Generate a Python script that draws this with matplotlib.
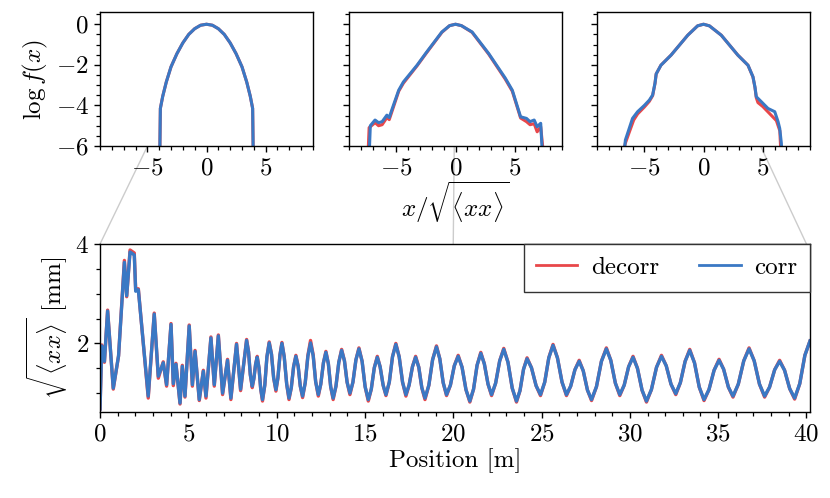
import matplotlib
matplotlib.use("Agg")
import matplotlib.pyplot as plt
from matplotlib.patches import ConnectionPatch
from matplotlib.ticker import MultipleLocator

plt.rcParams["font.family"] = "serif"
plt.rcParams["font.serif"] = ["cmr10"]
plt.rcParams["mathtext.fontset"] = "cm"
plt.rcParams["axes.formatter.use_mathtext"] = True
plt.rcParams["font.size"] = 18

RED = "#e8474a"
BLUE = "#3a78c4"

# --- distributions (log f(x)) at three positions ---
left_x = [-3.95, -3.9, -3.7, -3.4, -3.0, -2.5, -2.0, -1.5, -1.0, -0.5, 0.0,
          0.5, 1.0, 1.5, 2.0, 2.5, 3.0, 3.4, 3.7, 3.9, 3.95]
left_corr = [-6.5, -4.15, -3.55, -2.85, -2.1, -1.45, -0.92, -0.5, -0.22, -0.05, 0.0,
             -0.05, -0.22, -0.5, -0.92, -1.45, -2.1, -2.85, -3.55, -4.15, -6.5]
left_decorr = left_corr

mid_x_corr = [-7.3, -7.2, -6.8, -6.5, -6.2, -5.8, -5.6, -5.4, -4.8, -4.4, -3.25,
              -2.5, -1.15, -0.5, 0.0, 0.5, 1.4, 2.8, 4.2, 4.8, 5.2, 5.5, 6.0,
              6.3, 6.65, 6.9, 7.2, 7.35]
mid_corr = [-6.5, -5.0, -4.72, -4.85, -4.8, -4.48, -4.6, -4.25, -3.25, -2.84, -2.02,
            -1.42, -0.38, -0.07, 0.0, -0.07, -0.38, -1.44, -2.65, -3.25, -4.0, -4.56, -4.64,
            -4.8, -4.72, -5.05, -4.88, -6.5]
mid_x_decorr = [-7.4, -7.3, -6.8, -6.5, -6.2, -5.8, -5.6, -5.4, -4.8, -4.4, -3.25,
                -2.5, -1.15, -0.5, 0.0, 0.5, 1.4, 2.8, 4.2, 4.8, 5.2, 5.5, 6.0,
                6.3, 6.65, 6.9, 7.2, 7.45]
mid_decorr = [-6.5, -5.1, -4.85, -5.0, -4.95, -4.6, -4.7, -4.35, -3.3, -2.9, -2.05,
              -1.45, -0.4, -0.07, 0.0, -0.07, -0.4, -1.47, -2.7, -3.3, -4.05, -4.62, -4.8,
              -4.95, -4.9, -5.3, -5.05, -6.5]

right_x_corr = [-6.75, -6.6, -6.4, -6.0, -5.57, -5.0, -4.58, -4.3, -4.1, -4.0, -3.6,
                -2.74, -1.33, -0.5, 0.0, 0.5, 1.5, 2.9, 3.76, 4.18, 4.35, 4.46, 4.89,
                5.45, 6.02, 6.3, 6.44, 6.58, 6.62]
right_corr = [-6.5, -5.7, -5.35, -4.64, -4.31, -4.0, -3.74, -3.49, -2.9, -2.45, -2.02,
              -1.52, -0.54, -0.08, 0.0, -0.08, -0.54, -1.52, -2.02, -2.59, -3.1, -3.57, -3.82,
              -4.15, -4.31, -4.8, -5.13, -5.87, -6.5]
right_x_decorr = [-6.85, -6.6, -6.2, -5.9, -5.57, -5.0, -4.58, -4.3, -4.1, -4.0, -3.6,
                  -2.74, -1.33, -0.5, 0.0, 0.5, 1.5, 2.9, 3.76, 4.18, 4.35, 4.46, 4.6,
                  5.0, 5.45, 6.16, 6.45, 6.55]
right_decorr = [-6.5, -5.85, -5.2, -4.72, -4.42, -4.08, -3.8, -3.52, -2.92, -2.45, -2.02,
                -1.52, -0.54, -0.08, 0.0, -0.08, -0.54, -1.52, -2.02, -2.6, -3.12, -3.62, -3.86,
                -4.05, -4.32, -4.75, -5.25, -6.5]

# --- beam size along the line ---
pos = [0.0, 0.1, 0.25, 0.43, 0.75, 1.05, 1.38, 1.51, 1.7, 1.94, 2.02, 2.17, 2.45, 2.73,
       3.07, 3.3, 3.58, 3.77, 4.02, 4.15, 4.3, 4.53, 4.66, 4.81, 5.05, 5.23, 5.38,
       5.62, 5.85, 6.0, 6.28, 6.47, 6.7, 6.94, 7.22, 7.41, 7.73, 7.96, 8.3,
       8.41, 8.51, 8.62, 8.71, 8.81, 8.9, 9.0, 9.1, 9.2, 9.33, 9.45, 9.58,
       9.71, 9.83, 9.96, 10.07, 10.19, 10.3, 10.43, 10.57, 10.7, 10.83, 10.96, 11.09,
       11.22, 11.34, 11.47, 11.62, 11.77, 11.92, 12.07, 12.21, 12.36, 12.5, 12.65, 12.79,
       12.93, 13.06, 13.2, 13.36, 13.52, 13.68, 13.84, 13.99, 14.15, 14.32, 14.49, 14.66,
       14.84, 15.01, 15.19, 15.36, 15.53, 15.7, 15.86, 16.03, 16.19, 16.38, 16.56, 16.75,
       16.94, 17.13, 17.32, 17.5, 17.69, 17.87, 18.05, 18.22, 18.4, 18.62, 18.83, 19.05,
       19.24, 19.43, 19.62, 19.84, 20.06, 20.28, 20.5, 20.72, 20.94, 21.15, 21.35, 21.56,
       21.76, 21.97, 22.17, 22.4, 22.63, 22.86, 23.1, 23.34, 23.58, 23.78, 23.98, 24.18,
       24.43, 24.69, 24.94, 25.18, 25.41, 25.65, 25.9, 26.16, 26.41, 26.65, 26.89, 27.13,
       27.36, 27.6, 27.83, 28.11, 28.39, 28.67, 28.92, 29.18, 29.43, 29.68, 29.93, 30.18,
       30.43, 30.69, 30.94, 31.22, 31.51, 31.79, 32.06, 32.33, 32.6, 32.86, 33.13, 33.39,
       33.66, 33.93, 34.2, 34.48, 34.77, 35.05, 35.31, 35.58, 35.84, 36.14, 36.45, 36.75,
       37.04, 37.34, 37.63, 37.91, 38.2, 38.48, 38.76, 39.05, 39.33, 39.62, 39.91, 40.2]
size_corr = [0.68, 1.95, 1.64, 2.65, 1.1, 1.75, 3.63, 2.96, 3.84, 3.78, 3.05, 3.08, 2.0, 0.94,
             2.59, 1.34, 1.61, 1.17, 2.38, 1.19, 1.58, 0.8, 1.54, 0.94, 2.35, 1.17, 1.84,
             0.87, 1.44, 0.94, 2.11, 1.17, 2.15, 1.0, 1.66, 0.9, 1.98, 1.08, 2.06,
             1.83, 1.37, 1.14, 1.29, 1.58, 1.72, 1.51, 1.08, 0.87, 1.16, 1.73, 2.01,
             1.78, 1.31, 1.07, 1.30, 1.77, 2.0, 1.73, 1.18, 0.9, 1.11, 1.53, 1.74,
             1.54, 1.14, 0.94, 1.21, 1.74, 2.01, 1.75, 1.23, 0.97, 1.18, 1.61, 1.82,
             1.59, 1.13, 0.9, 1.14, 1.62, 1.86, 1.65, 1.22, 1.0, 1.22, 1.67, 1.89,
             1.64, 1.13, 0.87, 1.08, 1.51, 1.72, 1.53, 1.16, 0.97, 1.22, 1.73, 1.98,
             1.73, 1.22, 0.97, 1.16, 1.53, 1.72, 1.52, 1.11, 0.9, 1.16, 1.67, 1.93,
             1.69, 1.21, 0.97, 1.16, 1.55, 1.74, 1.52, 1.07, 0.84, 1.08, 1.56, 1.8,
             1.59, 1.18, 0.97, 1.2, 1.65, 1.88, 1.62, 1.1, 0.84, 1.05, 1.48, 1.69,
             1.51, 1.15, 0.97, 1.22, 1.71, 1.96, 1.71, 1.22, 0.97, 1.14, 1.47, 1.64,
             1.45, 1.06, 0.87, 1.13, 1.64, 1.89, 1.66, 1.2, 0.97, 1.16, 1.53, 1.72,
             1.5, 1.06, 0.84, 1.07, 1.52, 1.74, 1.55, 1.18, 0.99, 1.21, 1.64, 1.86,
             1.61, 1.12, 0.87, 1.07, 1.46, 1.66, 1.48, 1.12, 0.94, 1.18, 1.65, 1.89,
             1.65, 1.18, 0.94, 1.12, 1.47, 1.64, 1.46, 1.09, 0.9, 1.19, 1.76, 2.05]
size_decorr = [0.68, 1.97, 1.62, 2.67, 1.08, 1.75, 3.67, 2.94, 3.88, 3.82, 3.07, 3.1, 2.0, 0.9,
               2.61, 1.3, 1.63, 1.14, 2.4, 1.15, 1.6, 0.78, 1.56, 0.92, 2.37, 1.14, 1.86,
               0.85, 1.46, 0.9, 2.13, 1.14, 2.17, 0.97, 1.68, 0.87, 2.0, 1.05, 2.08,
               1.83, 1.37, 1.11, 1.29, 1.58, 1.74, 1.51, 1.08, 0.84, 1.16, 1.73, 2.03,
               1.78, 1.31, 1.04, 1.30, 1.77, 2.02, 1.73, 1.18, 0.87, 1.11, 1.53, 1.76,
               1.54, 1.14, 0.91, 1.21, 1.76, 2.06, 1.77, 1.23, 0.94, 1.18, 1.61, 1.84,
               1.59, 1.13, 0.87, 1.14, 1.62, 1.88, 1.65, 1.22, 0.97, 1.22, 1.67, 1.91,
               1.64, 1.13, 0.84, 1.08, 1.51, 1.74, 1.53, 1.16, 0.95, 1.22, 1.73, 2.0,
               1.73, 1.22, 0.94, 1.16, 1.53, 1.74, 1.52, 1.11, 0.87, 1.16, 1.67, 1.95,
               1.69, 1.21, 0.95, 1.16, 1.55, 1.76, 1.52, 1.07, 0.82, 1.08, 1.56, 1.82,
               1.59, 1.18, 0.95, 1.2, 1.65, 1.9, 1.62, 1.1, 0.82, 1.05, 1.48, 1.71,
               1.51, 1.15, 0.95, 1.22, 1.71, 1.98, 1.71, 1.22, 0.95, 1.14, 1.47, 1.66,
               1.45, 1.06, 0.85, 1.13, 1.64, 1.91, 1.66, 1.2, 0.95, 1.16, 1.53, 1.74,
               1.5, 1.06, 0.82, 1.07, 1.52, 1.76, 1.55, 1.18, 0.97, 1.21, 1.64, 1.88,
               1.61, 1.12, 0.85, 1.07, 1.46, 1.68, 1.48, 1.12, 0.92, 1.18, 1.65, 1.91,
               1.65, 1.18, 0.92, 1.12, 1.47, 1.66, 1.46, 1.09, 0.88, 1.19, 1.76, 2.05]

# where the three distributions were taken
sample_pos = [0.0, 20.0, 40.0]

fig = plt.figure(figsize=(8.3, 4.98), dpi=100)
ax_top = [fig.add_axes([0.1205, 0.7068, 0.2566, 0.269]),
          fig.add_axes([0.4205, 0.7068, 0.2566, 0.269]),
          fig.add_axes([0.7193, 0.7068, 0.2566, 0.269])]
ax = fig.add_axes([0.1205, 0.1727, 0.8554, 0.3373])

dists = [(left_x, left_decorr, left_x, left_corr),
         (mid_x_decorr, mid_decorr, mid_x_corr, mid_corr),
         (right_x_decorr, right_decorr, right_x_corr, right_corr)]

for i, a in enumerate(ax_top):
    xd, yd, xc, yc = dists[i]
    a.plot(xd, yd, color=RED, lw=2.2)
    a.plot(xc, yc, color=BLUE, lw=2.2)
    a.set_xlim(-9, 9)
    a.set_ylim(-6, 0.6)
    a.xaxis.set_major_locator(MultipleLocator(5))
    a.xaxis.set_minor_locator(MultipleLocator(1))
    a.yaxis.set_major_locator(MultipleLocator(2))
    a.yaxis.set_minor_locator(MultipleLocator(0.5))
    if i > 0:
        a.set_yticklabels([])
    a.set_zorder(2)

ax_top[0].set_ylabel(r"$\log f(x)$")
ax_top[1].set_xlabel(r"$x/\sqrt{\langle xx\rangle}$", labelpad=0)

ax.plot(pos, size_decorr, color=RED, lw=2.4, label="decorr")
ax.plot(pos, size_corr, color=BLUE, lw=2.4, label="corr")
ax.set_xlim(0, 40.2)
ax.set_ylim(0.62, 4)
ax.xaxis.set_major_locator(MultipleLocator(5))
ax.xaxis.set_minor_locator(MultipleLocator(1))
ax.yaxis.set_major_locator(MultipleLocator(2))
ax.yaxis.set_minor_locator(MultipleLocator(0.5))
ax.set_xlabel("Position [m]", labelpad=2)
ax.set_ylabel(r"$\sqrt{\langle xx\rangle}$ [mm]")
ax.set_zorder(1)
leg = ax.legend(loc="upper right", ncol=2, borderaxespad=0, fancybox=False,
                framealpha=1, edgecolor="#333333", handlelength=1.65,
                handletextpad=0.55, columnspacing=1.6, borderpad=0.5)
leg.get_frame().set_linewidth(1.0)
for h in leg.get_lines():
    h.set_linewidth(2.0)

for a in ax_top + [ax]:
    a.tick_params(which="major", direction="out", length=4.5, width=1)
    a.tick_params(which="minor", direction="out", length=3, width=0.9)
    for s in a.spines.values():
        s.set_linewidth(1.0)

for a, p in zip(ax_top, sample_pos):
    con = ConnectionPatch(xyA=(p, 4), coordsA=ax.transData,
                          xyB=(0, 0), coordsB=a.transData,
                          color="#cccccc", lw=1)
    con.set_zorder(0)
    fig.add_artist(con)

fig.savefig("out.png", dpi=100)
